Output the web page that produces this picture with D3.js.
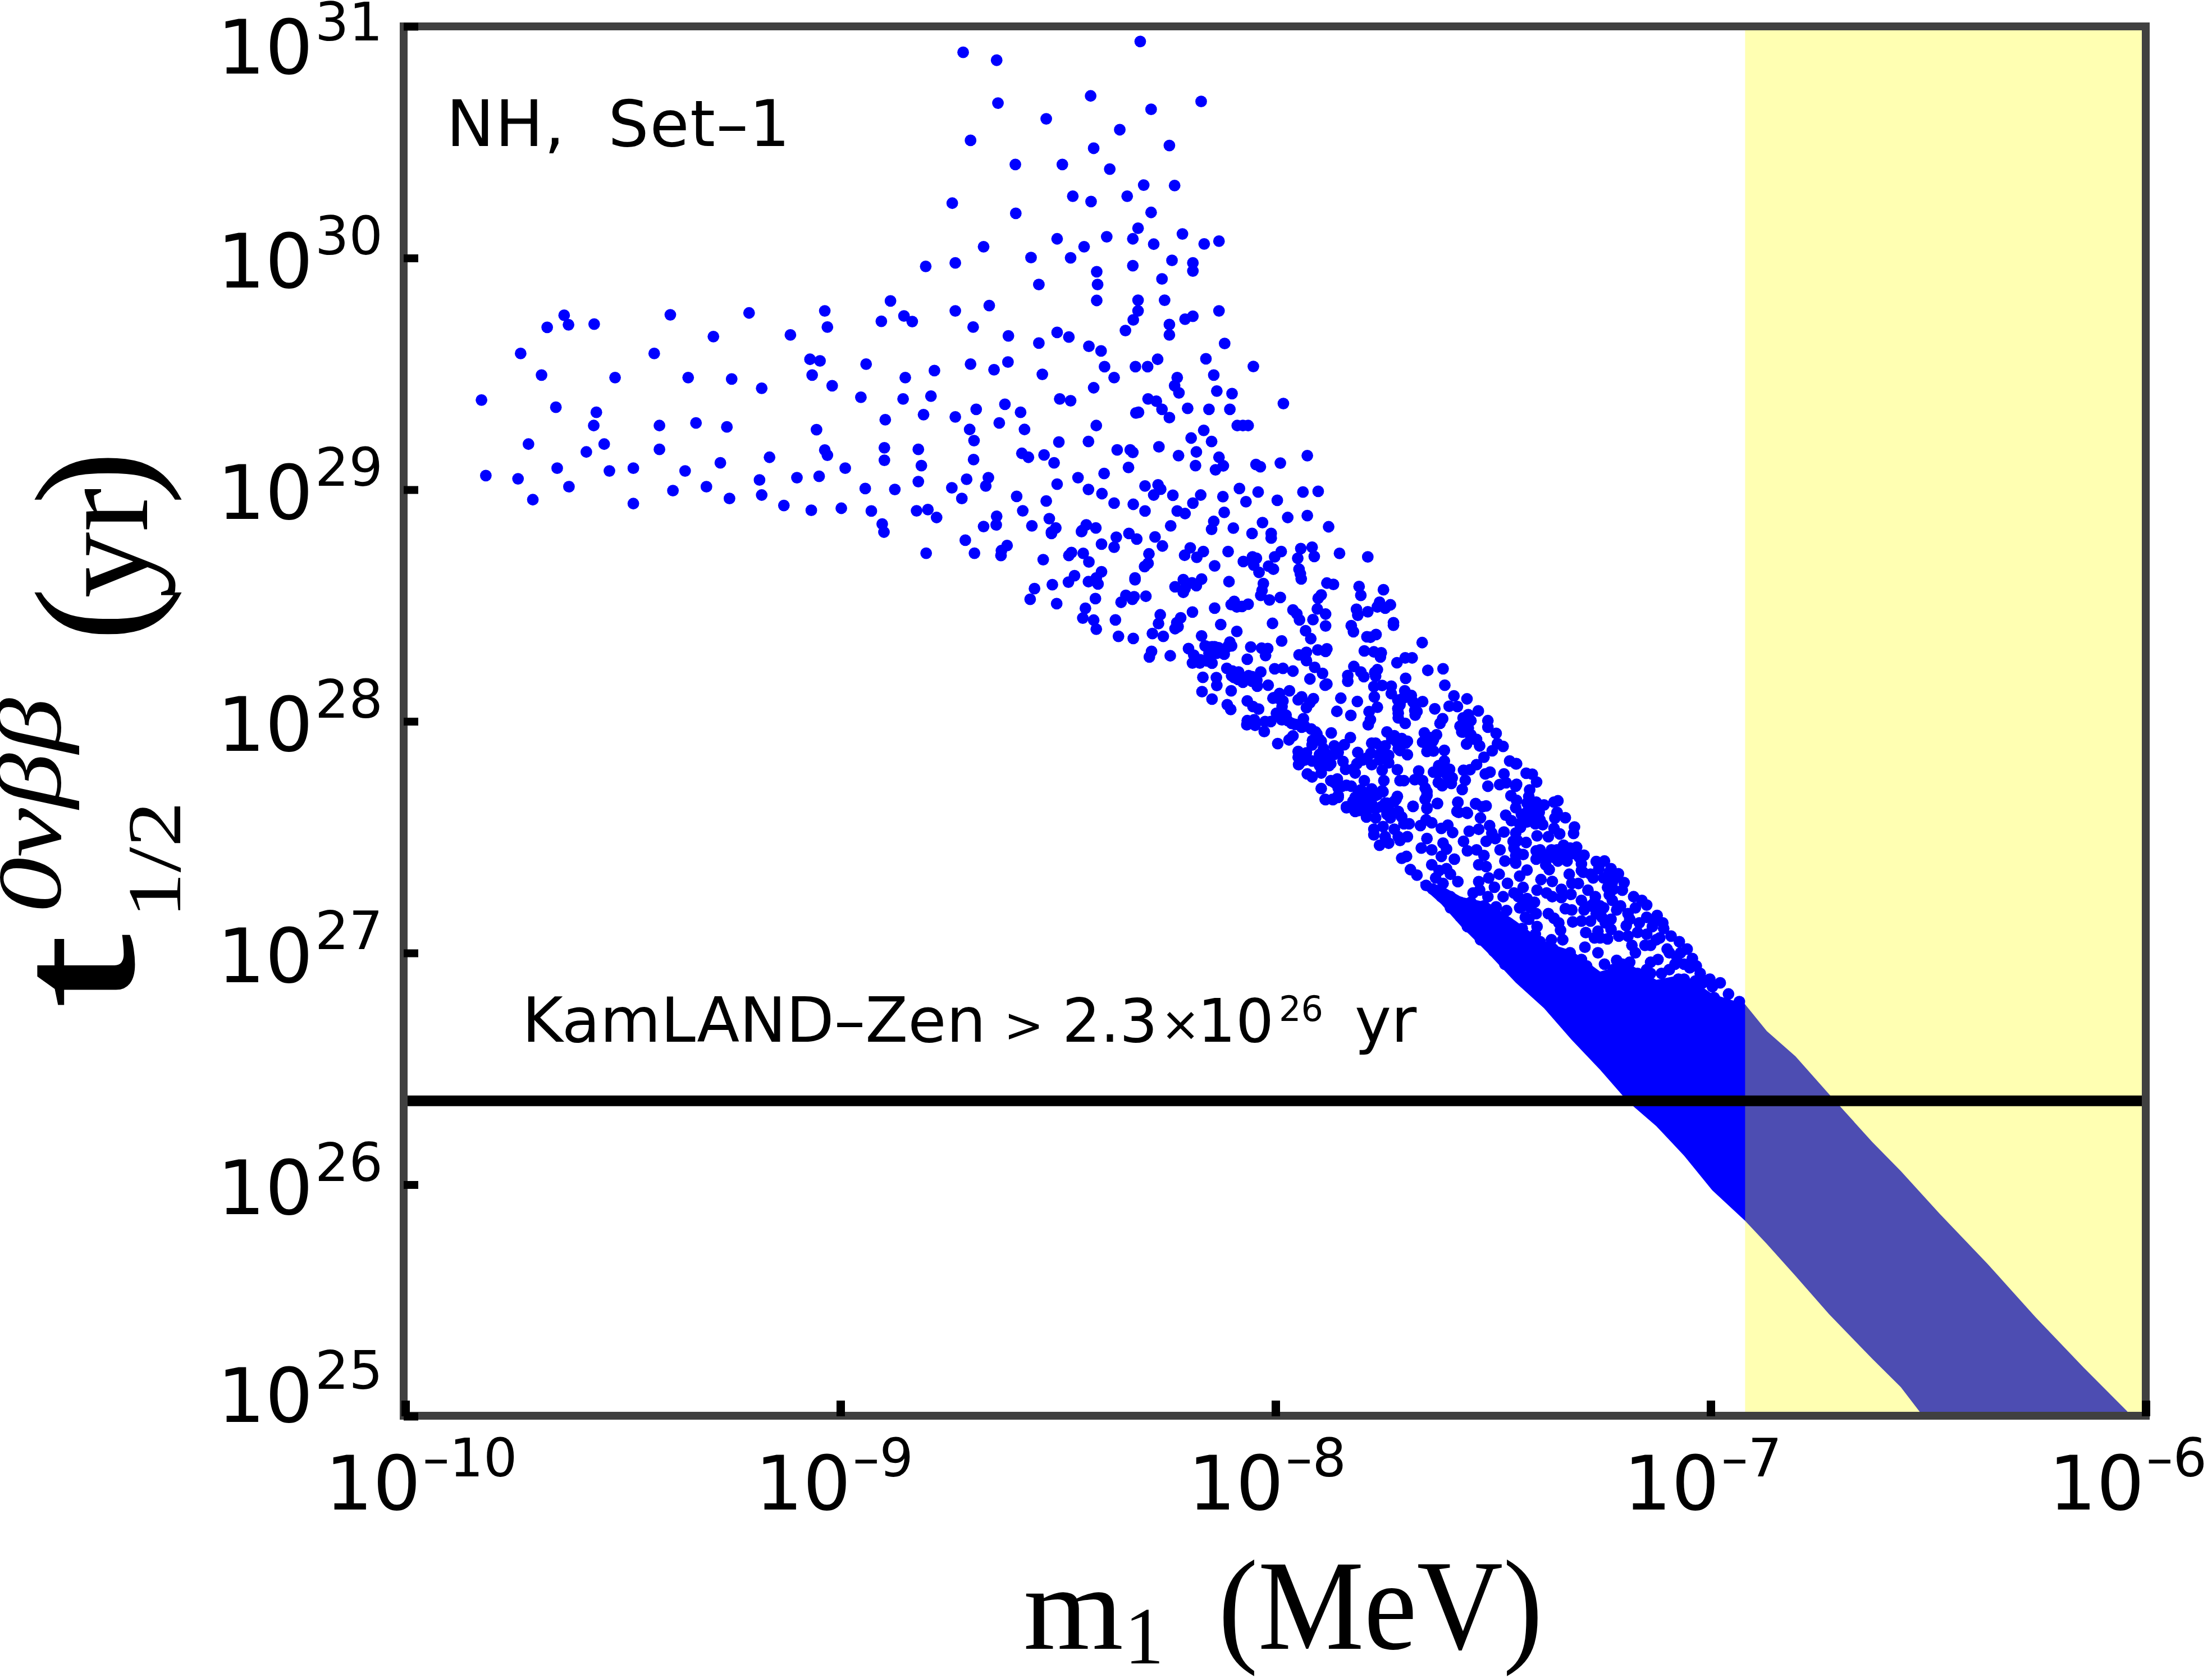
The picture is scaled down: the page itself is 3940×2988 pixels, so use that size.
<!DOCTYPE html>
<html>
<head>
<meta charset="utf-8">
<script src="https://cdn.jsdelivr.net/npm/d3@7"></script>
<style>
  html, body { margin: 0; padding: 0; background: #fff; }
  svg { display: block; }
</style>
</head>
<body>
<div id="chart"></div>
<script>
// ------ DATA (log10 of m1 in MeV, log10 of half life in yr) ------
const xTickExponents = [-10, -9, -8, -7, -6]
const yTickExponents = [25, 26, 27, 28, 29, 30, 31]
const kamlandLimit = 2.3e26
const yellowStart = 1.2e-7

// far left of the scatter
const pointsLeft = [
[-9.635,29.753],[-9.625,29.712],[-9.674,29.701],[-9.566,29.715],[-9.391,29.755],[-9.292,29.661],[-9.735,29.588],[-9.428,29.588],[-9.687,29.495],[-9.518,29.484],[-9.350,29.484],[-9.250,29.478],[-9.825,29.387],[-9.654,29.356],[-9.561,29.334],[-9.567,29.277],[-9.416,29.277],[-9.332,29.288],[-9.261,29.271],[-9.717,29.197],[-9.543,29.197],[-9.584,29.163],[-9.416,29.174],[-9.276,29.116],[-9.651,29.093],[-9.476,29.093],[-9.531,29.081],[-9.357,29.081],[-9.815,29.061],[-9.741,29.047],[-9.624,29.013],[-9.308,29.013],[-9.385,28.996],[-9.707,28.957],[-9.476,28.940],[-9.255,28.962]
]

// upper part, above 10^28.8
const pointsUpper = [
[-8.311,30.935],[-8.718,30.888],[-8.641,30.854],[-8.425,30.700],[-8.171,30.676],[-8.638,30.669],[-8.286,30.642],[-8.527,30.601],[-8.358,30.554],[-8.701,30.508],[-8.244,30.486],[-8.418,30.474],[-8.598,30.404],[-8.490,30.404],[-8.381,30.384],[-8.303,30.315],[-8.232,30.313],[-8.466,30.267],[-8.341,30.267],[-8.424,30.244],[-8.743,30.237],[-8.286,30.197],[-8.597,30.193],[-8.316,30.129],[-8.214,30.104],[-8.388,30.092],[-8.502,30.083],[-8.328,30.083],[-8.130,30.073],[-8.164,30.061],[-8.280,30.060],[-8.440,30.049],[-8.671,30.049],[-8.562,30.002],[-8.471,30.001],[-8.238,29.990],[-8.190,29.979],[-8.736,29.979],[-8.804,29.964],[-8.328,29.967],[-8.190,29.944],[-8.411,29.941],[-8.261,29.910],[-8.544,29.886],[-8.409,29.886],[-8.885,29.815],[-8.411,29.817],[-8.316,29.818],[-8.255,29.818],[-8.658,29.795],[-9.210,29.763],[-9.036,29.772],[-8.736,29.772],[-8.316,29.772],[-8.130,29.772],[-8.854,29.750],[-8.190,29.749],[-8.208,29.736],[-8.327,29.733],[-8.906,29.727],[-8.835,29.726],[-8.244,29.713],[-9.030,29.702],[-8.695,29.702],[-8.345,29.687],[-8.502,29.679],[-9.115,29.668],[-8.244,29.668],[-8.614,29.664],[-8.475,29.659],[-8.544,29.633],[-8.117,29.631],[-8.429,29.619],[-8.401,29.599],[-9.070,29.563],[-8.271,29.563],[-8.160,29.565],[-9.047,29.556],[-8.615,29.551],[-8.941,29.542],[-8.701,29.542],[-8.647,29.518],[-8.393,29.531],[-8.322,29.531],[-8.294,29.531],[-8.051,29.532],[-8.784,29.514],[-9.065,29.495],[-8.536,29.498],[-8.142,29.495],[-8.851,29.484],[-8.371,29.484],[-8.226,29.484],[-8.232,29.449],[-9.019,29.449],[-9.181,29.438],[-8.418,29.440],[-8.222,29.418],[-8.135,29.426],[-8.100,29.415],[-8.792,29.404],[-8.953,29.399],[-8.856,29.392],[-8.496,29.392],[-8.293,29.392],[-8.471,29.384],[-8.274,29.382],[-8.622,29.369],[-7.982,29.372],[-8.261,29.347],[-8.688,29.347],[-8.202,29.351],[-8.153,29.347],[-8.105,29.347],[-8.586,29.334],[-8.321,29.331],[-8.315,29.334],[-8.809,29.324],[-8.897,29.302],[-8.736,29.314],[-8.244,29.311],[-8.635,29.288],[-8.412,29.277],[-8.088,29.277],[-8.075,29.277],[-8.063,29.277],[-9.055,29.259],[-8.703,29.260],[-8.577,29.260],[-8.165,29.256],[-8.194,29.223],[-8.693,29.212],[-8.498,29.206],[-8.430,29.208],[-8.147,29.208],[-8.899,29.181],[-8.268,29.185],[-9.036,29.171],[-8.821,29.174],[-8.364,29.172],[-8.334,29.172],[-8.328,29.161],[-8.182,29.163],[-9.030,29.149],[-8.583,29.157],[-8.532,29.150],[-8.223,29.147],[-7.927,29.147],[-8.568,29.140],[-9.163,29.140],[-8.130,29.140],[-8.899,29.127],[-8.694,29.130],[-8.509,29.116],[-7.989,29.115],[-8.045,29.109],[-8.035,29.099],[-8.814,29.104],[-8.184,29.104],[-8.120,29.103],[-8.989,29.093],[-8.338,29.096],[-8.138,29.086],[-8.394,29.070],[-9.186,29.042],[-9.100,29.052],[-9.049,29.058],[-8.660,29.052],[-8.710,29.045],[-8.454,29.052],[-8.821,29.035],[-8.502,29.024],[-8.666,29.016],[-8.300,29.016],[-8.270,29.021],[-8.264,29.002],[-8.943,29.005],[-8.744,29.008],[-8.083,29.005],[-8.430,29.001],[-8.875,29.001],[-7.902,28.993],[-7.937,28.990],[-8.040,28.990],[-8.399,28.983],[-9.181,28.977],[-8.280,28.977],[-8.236,28.976],[-8.172,28.977],[-8.595,28.971],[-8.121,28.970],[-8.721,28.962],[-8.527,28.951],[-7.996,28.954],[-8.068,28.948],[-8.371,28.942],[-8.190,28.942],[-8.327,28.937],[-9.130,28.932],[-8.998,28.920],[-9.067,28.911],[-8.929,28.908],[-8.300,28.908],[-8.825,28.909],[-8.799,28.914],[-8.581,28.909],[-8.226,28.908],[-8.208,28.897],[-8.118,28.902],[-8.641,28.885],[-7.927,28.888],[-7.972,28.880],[-8.779,28.880],[-8.520,28.875],[-8.142,28.863],[-8.030,28.858],[-8.904,28.852],[-8.435,28.848],[-8.642,28.848],[-8.671,28.841],[-8.560,28.844],[-8.241,28.844],[-7.878,28.840],[-8.413,28.835],[-8.505,28.835],[-8.147,28.829],[-8.097,28.834],[-8.445,28.823],[-8.515,28.817],[-8.900,28.817]
]

// underside of the knee, around 10^-8.5
const pointsKnee = [
[-8.803,28.726],[-8.713,28.782],[-8.692,28.726],[-8.617,28.759],[-8.630,28.737],[-8.631,28.716],[-8.515,28.811],[-8.446,28.819],[-8.400,28.765],[-8.366,28.795],[-8.371,28.752],[-8.337,28.811],[-8.319,28.787],[-8.277,28.796],[-8.260,28.757],[-8.196,28.749],[-8.209,28.717],[-8.166,28.733],[-8.181,28.708],[-8.534,28.698],[-8.469,28.729],[-8.475,28.716],[-8.442,28.725],[-8.429,28.688],[-8.291,28.723],[-8.293,28.682],[-8.301,28.668],[-8.400,28.646],[-8.462,28.629],[-8.476,28.601],[-8.412,28.619],[-8.430,28.603],[-8.408,28.593],[-8.323,28.619],[-8.323,28.611],[-8.212,28.612],[-8.170,28.614],[-8.192,28.598],[-8.231,28.581],[-8.182,28.586],[-8.208,28.573],[-8.212,28.557],[-8.513,28.590],[-8.554,28.573],[-8.564,28.527],[-8.503,28.508],[-8.414,28.530],[-8.344,28.544],[-8.355,28.514],[-8.325,28.538],[-8.329,28.527],[-8.298,28.540],[-8.437,28.488],[-8.443,28.446],[-8.418,28.437],[-8.412,28.398],[-8.368,28.438],[-8.265,28.460],[-8.269,28.422],[-8.218,28.447],[-8.191,28.472],[-8.227,28.426],[-8.224,28.409],[-8.231,28.400],[-8.283,28.379],[-8.258,28.367],[-8.361,28.367],[-8.327,28.358],[-8.170,28.369],[-8.162,28.326],[-8.200,28.314],[-8.285,28.302],[-8.290,28.278],[-8.242,28.283],[-8.188,28.286],[-8.191,28.252],[-8.173,28.266],[-8.174,28.252],[-8.167,28.190],[-8.169,28.128]
]

// open middle of the band
const pointsMiddle = [
[-8.054,28.811],[-8.010,28.791],[-8.010,28.811],[-7.942,28.746],[-7.916,28.752],[-7.911,28.712],[-7.949,28.704],[-7.987,28.733],[-8.002,28.710],[-7.853,28.725],[-7.788,28.710],[-8.109,28.733],[-8.140,28.671],[-8.074,28.690],[-8.053,28.710],[-8.044,28.704],[-8.050,28.674],[-8.038,28.643],[-8.016,28.670],[-8.005,28.657],[-7.946,28.657],[-7.943,28.637],[-7.941,28.615],[-8.107,28.603],[-8.028,28.595],[-8.031,28.565],[-8.034,28.544],[-8.014,28.524],[-7.989,28.535],[-7.882,28.597],[-7.867,28.591],[-7.808,28.582],[-7.804,28.544],[-7.752,28.568],[-7.895,28.546],[-7.902,28.531],[-7.904,28.485],[-7.885,28.463],[-7.960,28.481],[-7.951,28.464],[-7.945,28.438],[-7.914,28.439],[-7.885,28.412],[-7.814,28.484],[-7.811,28.458],[-7.788,28.473],[-7.761,28.514],[-7.766,28.494],[-7.748,28.489],[-7.736,28.503],[-7.729,28.426],[-7.729,28.415],[-7.826,28.413],[-7.821,28.387],[-7.790,28.365],[-7.782,28.363],[-7.769,28.375],[-8.095,28.518],[-8.102,28.504],[-8.089,28.494],[-8.077,28.496],[-8.063,28.506],[-8.140,28.489],[-8.126,28.418],[-8.007,28.423],[-8.089,28.388],[-7.931,28.391],[-7.919,28.357],[-7.986,28.347],[-7.663,28.340],[-8.105,28.342],[-8.101,28.326],[-8.110,28.322],[-8.146,28.322],[-8.157,28.322],[-8.140,28.322],[-8.153,28.294],[-8.118,28.290],[-8.057,28.321],[-8.032,28.316],[-8.018,28.314],[-8.023,28.284],[-8.065,28.268],[-8.146,28.251],[-7.929,28.298],[-7.946,28.287],[-7.903,28.308],[-7.882,28.313],[-7.885,28.302],[-7.929,28.262],[-7.910,28.233],[-7.892,28.207],[-7.796,28.304],[-7.774,28.300],[-7.757,28.296],[-7.759,28.278],[-7.721,28.253],[-7.702,28.274],[-7.686,28.274],[-7.650,28.220],[-7.615,28.227],[-7.701,28.186],[-7.611,28.156],[-7.820,28.237],[-7.804,28.213],[-7.797,28.193],[-7.766,28.223],[-7.772,28.211],[-7.770,28.195],[-7.834,28.198],[-7.834,28.173],[-7.774,28.150],[-7.755,28.155],[-7.734,28.152],[-7.734,28.120],[-7.703,28.132],[-7.688,28.112],[-7.662,28.085],[-7.701,28.104],[-7.719,28.092],[-7.710,28.096],[-7.680,28.076],[-7.719,28.055],[-7.680,28.047],[-7.679,28.027],[-7.718,28.015],[-7.702,27.991],[-7.773,28.106],[-7.766,28.061],[-7.785,28.042],[-7.782,28.007],[-7.787,27.985],[-7.850,28.100],[-7.812,28.086],[-7.859,28.043],[-7.827,28.026],[-7.590,28.110],[-7.560,28.097],[-7.601,28.065],[-7.582,28.064],[-7.634,28.054],[-7.534,28.045],[-7.557,28.029],[-7.569,28.015],[-7.616,28.011],[-7.622,27.991],[-7.561,27.999],[-7.576,27.979],[-7.557,27.971],[-7.572,27.954],[-7.551,27.942],[-7.561,27.902],[-7.531,27.894],[-7.538,27.922],[-7.512,28.003],[-7.512,27.975],
[-8.112,28.229],[-8.099,28.217],[-8.085,28.213],[-8.095,28.189],[-8.086,28.181],[-8.065,28.185],[-8.054,28.193],[-8.034,28.213],[-8.043,28.177],[-8.042,28.152],[-8.017,28.156],[-8.002,28.227],[-7.983,28.229],[-7.960,28.217],[-8.136,28.189],[-8.135,28.155],[-8.102,28.132],[-8.146,28.096],[-8.111,28.072],[-8.103,28.051],[-8.065,28.088],[-8.052,28.064],[-8.039,28.053],[-7.921,28.183],[-7.886,28.156],[-7.882,28.161],[-7.968,28.132],[-7.991,28.120],[-8.004,28.102],[-7.983,28.088],[-7.940,28.106],[-7.948,28.093],[-7.913,28.098],[-7.921,28.080],[-7.929,28.059],[-7.985,28.064],[-7.993,28.031],[-7.976,28.027],[-7.986,28.007],[-7.936,28.011],[-7.963,27.991],[-7.940,27.975],[-7.918,27.967],[-7.905,27.946],[-7.872,27.950],[-7.828,27.930],[-7.842,27.899],[-8.065,28.003],[-8.049,28.007],[-8.066,27.985],[-8.047,27.983],[-8.024,27.999],[-8.011,27.999],[-8.026,27.956],[-7.960,27.937],[-7.969,27.920],[-7.995,27.904],[-7.915,27.918],[-7.895,27.914],[-7.865,27.894],[-7.890,27.882],[-7.948,27.870],[-7.929,27.864],[-7.948,27.845],[-7.947,27.813],[-7.916,27.829],[-7.890,27.837],[-7.865,27.857],[-7.877,27.809],[-7.845,27.827],[-7.895,27.777],[-7.927,27.773],[-7.916,27.760],[-7.895,27.710],[-7.873,27.744],[-7.858,27.751],[-7.856,27.712],[-7.885,27.662],[-7.868,27.662],[-7.856,27.680],[-7.837,27.627],[-7.837,27.724],[-7.817,27.777],[-7.839,27.793],[-7.813,27.817],[-7.811,27.866],[-7.796,27.744],[-7.779,27.906],[-7.770,27.906],[-7.781,27.862],[-7.744,27.954],[-7.733,27.926],[-7.710,27.926],[-7.701,27.906],[-7.748,27.894],[-7.714,27.874],[-7.697,27.856],[-7.740,27.853],[-7.779,27.813],[-7.740,27.821],[-7.755,27.789],[-7.720,27.791],[-7.751,27.744],[-7.714,27.744],[-7.705,27.744],[-7.779,27.708],[-7.755,27.700],[-7.809,27.696],[-7.796,27.672],[-7.766,27.684],[-7.720,27.676],[-7.727,27.655],[-7.744,27.647],[-7.684,27.633],[-7.658,27.950],[-7.630,27.942],[-7.645,27.930],[-7.662,27.910],[-7.639,27.914],[-7.652,27.870],[-7.637,27.872],[-7.612,27.875],[-7.612,27.829],[-7.625,27.809],[-7.600,27.793],[-7.637,27.781],[-7.671,27.786],[-7.680,27.748],[-7.662,27.744],[-7.626,27.736],[-7.594,27.756],[-7.596,27.732],[-7.617,27.722],[-7.656,27.712],[-7.652,27.680],[-7.656,27.664],[-7.628,27.645],[-7.652,27.623],[-7.568,27.789],[-7.553,27.791],[-7.538,27.813],[-7.521,27.845],[-7.564,27.746],[-7.571,27.706],[-7.518,27.773],[-7.581,27.650],[-7.540,27.645],[-7.512,27.720],[-7.579,27.607],[-7.561,27.607],[-7.525,27.631],
[-7.822,27.655],[-7.800,27.647],[-7.779,27.643],[-7.757,27.631],[-7.740,27.619],[-7.718,27.611],[-7.817,27.611],[-7.791,27.611],
[-7.493,27.948],[-7.490,27.904],[-7.477,27.892],[-7.502,27.873],[-7.462,27.829],[-7.448,27.817],[-7.507,27.781],[-7.475,27.773],[-7.470,27.735],[-7.485,27.727],[-7.448,27.720],[-7.459,27.679],
[-8.148,28.286],[-8.135,28.294],[-8.131,28.318],[-8.157,28.261],[-8.101,28.197],[-8.075,28.189],[-8.075,28.169],[-8.054,28.173],[-8.062,28.197],[-7.994,28.100],[-8.006,28.100],[-7.985,28.084],[-7.985,28.035],[-7.998,28.035],[-7.972,28.003],[-7.955,27.987],[-7.933,27.979],[-7.908,27.954],[-7.916,27.898],[-7.899,27.922],[-7.882,27.857],[-7.899,27.857],[-7.873,27.817],[-7.856,27.866],[-7.890,27.817],[-7.933,27.833],[-7.899,27.809],[-7.942,27.825],[-7.865,27.736],[-7.847,27.720],[-7.826,27.720],[-7.804,27.704],[-7.817,27.672],[-7.800,27.696],[-7.779,27.680],[-7.727,27.938],[-7.723,27.914],[-7.697,27.914],[-7.718,27.882],[-7.761,27.857],[-7.757,27.890],[-7.761,27.833],[-7.791,27.841],[-7.822,27.793],[-7.800,27.833],[-7.654,27.914],[-7.645,27.890],[-7.637,27.922],[-7.615,27.809],[-7.606,27.769],[-7.628,27.777],[-7.602,27.744],[-7.551,27.926],[-7.542,27.922],[-7.563,28.011],[-7.551,28.003],[-7.568,27.954],[-7.684,28.084],[-7.714,28.072],[-7.701,28.124],[-7.718,28.035],[-7.675,28.043]
]

// crowded part, just before the band closes up
const pointsCrowded = [
[-7.774,27.534],[-7.753,27.546],[-7.727,27.534],[-7.705,27.558],[-7.693,27.558],[-7.774,27.510],[-7.748,27.502],[-7.718,27.502],[-7.697,27.502],[-7.761,27.465],[-7.740,27.474],[-7.714,27.486],[-7.791,27.587],[-7.710,27.587],[-7.736,27.583],[-7.770,27.583],[-7.654,27.575],[-7.667,27.550],[-7.641,27.562],[-7.619,27.538],[-7.604,27.552],[-7.593,27.520],[-7.652,27.494],[-7.665,27.453],[-7.641,27.445],[-7.615,27.474],[-7.607,27.449],[-7.619,27.417],[-7.589,27.405],[-7.641,27.381],[-7.699,27.417],[-7.710,27.409],[-7.690,27.360],[-7.675,27.336],[-7.654,27.292],[-7.639,27.276],[-7.624,27.356],[-7.598,27.340],[-7.581,27.308],[-7.607,27.364],[-7.615,27.300],[-7.632,27.324],[-7.568,27.482],[-7.559,27.441],[-7.538,27.445],[-7.521,27.421],[-7.516,27.482],[-7.533,27.381],[-7.516,27.373],[-7.555,27.526],[-7.533,27.534],[-7.508,27.550],[-7.503,27.518],[-7.495,27.494],[-7.475,27.522],[-7.454,27.482],[-7.452,27.453],[-7.484,27.445],[-7.473,27.397],[-7.450,27.397],[-7.486,27.340],[-7.510,27.324],[-7.533,27.308],[-7.531,27.272],[-7.497,27.284],[-7.467,27.301],[-7.458,27.571],[-7.471,27.595],[-7.469,27.183],[-7.493,27.199],[-7.521,27.203],[-7.551,27.219],[-7.576,27.219],[-7.598,27.195],[-7.576,27.158],[-7.542,27.162],[-7.503,27.138],[-7.559,27.114],[-7.529,27.057],[-7.482,27.098],[-7.465,27.130],[-7.499,27.049],[-7.452,27.041],[-7.598,27.243],[-7.619,27.243],[-7.546,27.259],[-7.512,27.243],[-7.477,27.243],[-7.452,27.259],[-7.473,26.952],[-7.499,27.009],
[-7.446,27.817],[-7.424,27.776],[-7.410,27.772],[-7.400,27.738],[-7.446,27.728],[-7.416,27.704],[-7.418,27.675],[-7.383,27.639],[-7.360,27.651],[-7.351,27.657],[-7.422,27.647],[-7.401,27.651],[-7.422,27.607],[-7.394,27.607],[-7.403,27.558],[-7.386,27.554],[-7.446,27.659],[-7.448,27.627],[-7.353,27.607],[-7.334,27.584],[-7.358,27.582],[-7.360,27.538],[-7.313,27.544],[-7.315,27.516],[-7.347,27.514],[-7.373,27.502],[-7.399,27.506],[-7.424,27.477],[-7.437,27.542],[-7.444,27.485],[-7.338,27.465],[-7.353,27.445],[-7.323,27.453],[-7.308,27.457],[-7.291,27.422],[-7.401,27.441],[-7.431,27.425],[-7.383,27.421],[-7.401,27.405],[-7.379,27.380],[-7.351,27.397],[-7.330,27.397],[-7.371,27.360],[-7.297,27.384],[-7.448,27.388],[-7.263,27.395],[-7.244,27.397],[-7.229,27.364],[-7.212,27.342],[-7.199,27.304],[-7.203,27.271],[-7.293,27.348],[-7.270,27.324],[-7.246,27.324],[-7.226,27.304],[-7.325,27.340],[-7.390,27.317],[-7.364,27.309],[-7.319,27.301],[-7.304,27.300],[-7.422,27.358],[-7.439,27.332],[-7.431,27.283],[-7.399,27.271],[-7.377,27.259],[-7.343,27.275],[-7.321,27.253],[-7.364,27.243],[-7.343,27.239],[-7.282,27.271],[-7.265,27.243],[-7.442,27.243],[-7.405,27.219],[-7.431,27.203],[-7.401,27.170],[-7.418,27.146],[-7.373,27.170],[-7.360,27.150],[-7.349,27.130],[-7.345,27.098],[-7.340,27.057],[-7.366,27.057],[-7.399,27.114],[-7.403,27.081],[-7.433,27.106],[-7.334,27.191],[-7.319,27.186],[-7.317,27.134],[-7.297,27.138],[-7.297,27.227],[-7.276,27.203],[-7.291,27.186],[-7.287,27.088],[-7.263,27.170],[-7.233,27.251],[-7.226,27.227],[-7.246,27.195],[-7.177,27.243],[-7.158,27.227],[-7.147,27.207],[-7.173,27.195],[-7.207,27.203],[-7.123,27.162],[-7.110,27.130],[-7.108,27.106],[-7.134,27.114],[-7.164,27.130],[-7.194,27.118],[-7.242,27.130],[-7.229,27.102],[-7.259,27.094],[-7.267,27.065],[-7.237,27.061],[-7.289,27.025],[-7.259,27.001],[-7.168,27.089],[-7.091,27.073],[-7.072,27.049],[-7.054,27.017],[-7.042,26.976],[-7.033,26.944],[-7.125,27.057],[-7.151,27.033],[-7.181,27.033],[-7.190,27.073],[-7.211,27.073],[-7.100,27.017],[-7.078,26.984],[-7.138,26.960],[-7.121,26.972],[-7.173,27.001],[-7.216,26.968],[-7.244,26.952],[-7.224,26.928],[-7.186,26.960],[-7.168,26.912],[-7.297,26.972],[-7.285,26.944],[-7.323,27.001],[-7.345,26.984],[-7.319,26.936],[-7.002,26.887],[-6.978,26.871],[-6.959,26.823],[-6.934,26.790],[-7.024,26.912],[-6.996,26.855],[-7.095,26.928],[-7.061,26.952],[-7.018,26.871],[-7.113,26.912],[-7.138,26.912],[-7.074,26.887],[-7.190,26.879],[-7.216,26.863],[-7.164,26.863],[-7.125,26.855],[-7.048,26.847],[-6.992,26.807],[-7.383,27.025],[-7.409,27.025],[-7.435,27.033],[-7.362,27.017],[-7.405,26.968],[-7.362,26.952],[-7.431,26.928],[-7.383,26.904],[-7.336,26.887],[-7.297,26.895],[-7.263,26.887],
[-7.435,27.599],[-7.418,27.623],[-7.409,27.631],[-7.392,27.631],[-7.409,27.591],[-7.422,27.566],[-7.392,27.574],[-7.439,27.558],[-7.448,27.518],[-7.442,27.429],[-7.448,27.421],[-7.392,27.445],[-7.366,27.445],[-7.362,27.413],[-7.340,27.421],[-7.319,27.429],[-7.302,27.413],[-7.297,27.356],[-7.276,27.340],[-7.257,27.364],[-7.233,27.348],[-7.220,27.324],[-7.224,27.275],[-7.237,27.283],[-7.422,27.235],[-7.414,27.195],[-7.439,27.195],[-7.426,27.154],[-7.448,27.065],[-7.448,27.025],[-7.426,27.065],[-7.392,27.049],[-7.267,27.219],[-7.254,27.203],[-7.276,27.138],[-7.250,27.154],[-7.229,27.146],[-7.254,27.065],[-7.216,27.186],[-7.190,27.170],[-7.186,27.146],[-7.147,27.154],[-7.130,27.146],[-7.147,27.081],[-7.117,27.065],[-7.138,27.033],[-7.203,26.952],[-7.190,26.920],[-7.147,26.928],[-7.095,27.001],[-7.069,27.001],[-7.082,26.952],[-7.048,26.936],[-7.061,26.887],[-7.035,26.879],
[-7.886,27.663],[-7.869,27.663],[-7.856,27.672],[-7.837,27.631],[-7.824,27.627],[-7.809,27.615],[-7.791,27.655],[-7.770,27.680],[-7.753,27.696],[-7.723,27.663],[-7.748,27.647],[-7.718,27.607],[-7.770,27.623],[-7.744,27.599],[-7.796,27.615],[-7.684,27.633],[-7.628,27.646],[-7.652,27.627],[-7.656,27.663],[-7.652,27.696],[-7.581,27.651],[-7.583,27.611],[-7.559,27.603],[-7.540,27.643],[-7.516,27.635],[-7.529,27.583]
]

// the solid band, read as its upper and lower edge
const bandM1 = [-7.667,-7.619,-7.573,-7.512,-7.448,-7.383,-7.319,-7.254,-7.190,-7.125,-7.061,-6.996,-6.921,-6.871,-6.805,-6.728,-6.628,-6.563,-6.474,-6.364,-6.253,-6.143,-6.044,-5.990]
const bandUpper = [27.308,27.291,27.242,27.218,27.138,27.048,27.010,26.920,26.956,26.884,26.908,26.823,26.779,26.663,26.554,26.391,26.183,26.059,25.875,25.659,25.427,25.211,25.024,24.908]
const bandLower = [27.291,27.211,27.114,27.000,26.872,26.762,26.624,26.496,26.358,26.253,26.125,25.975,25.844,25.744,25.606,25.441,25.247,25.126,24.908,24.665,24.399,24.156,23.914,23.793]

// ------ SCALES ------
const width = 3940, height = 2988
const x = d3.scaleLog().domain([1e-10, 1e-6]).range([722, 3822])
const y = d3.scaleLog().domain([1e25, 1e31]).range([2522, 47])

const svg = d3.select("#chart").append("svg")
  .attr("width", width)
  .attr("height", height)
  .style("background", "#fff")

svg.append("defs").append("clipPath").attr("id", "plot")
  .append("rect")
  .attr("x", x(1e-10)).attr("y", y(1e31))
  .attr("width", x(1e-6) - x(1e-10)).attr("height", y(1e25) - y(1e31))

const plot = svg.append("g").attr("clip-path", "url(#plot)")

// ------ MARKS ------
const band = d3.area()
  .x(function(d, i) { return x(Math.pow(10, d)) })
  .y0(function(d, i) { return y(Math.pow(10, bandLower[i])) })
  .y1(function(d, i) { return y(Math.pow(10, bandUpper[i])) })

plot.append("path")
  .datum(bandM1)
  .attr("d", band)
  .attr("fill", "#0000ff")

const allPoints = pointsLeft.concat(pointsUpper, pointsKnee, pointsMiddle, pointsCrowded)

plot.selectAll("circle")
  .data(allPoints)
  .join("circle")
  .attr("cx", function(d) { return x(Math.pow(10, d[0])) })
  .attr("cy", function(d) { return y(Math.pow(10, d[1])) })
  .attr("r", 10.4)
  .attr("fill", "#0000ff")

// excluded region sits on top of the dots
plot.append("rect")
  .attr("x", x(yellowStart))
  .attr("y", y(1e31))
  .attr("width", x(1e-6) - x(yellowStart))
  .attr("height", y(1e25) - y(1e31))
  .attr("fill", "#ffff00")
  .attr("opacity", 0.3)

plot.append("line")
  .attr("x1", x(1e-10)).attr("x2", x(1e-6))
  .attr("y1", y(kamlandLimit)).attr("y2", y(kamlandLimit))
  .attr("stroke", "#000")
  .attr("stroke-width", 19)

// ------ FRAME AND AXES ------
svg.append("rect")
  .attr("x", 719).attr("y", 47)
  .attr("width", 3103).attr("height", 2474)
  .attr("fill", "none")
  .attr("stroke", "#404040")
  .attr("stroke-width", 14)

const xAxis = d3.axisBottom(x)
  .tickValues(xTickExponents.map(function(e) { return Math.pow(10, e) }))
  .tickSize(-28)
  .tickFormat("")
const yAxis = d3.axisLeft(y)
  .tickValues(yTickExponents.map(function(e) { return Math.pow(10, e) }))
  .tickSize(-26)
  .tickFormat("")

const gx = svg.append("g").attr("transform", "translate(0,2522)").call(xAxis)
const gy = svg.append("g").attr("transform", "translate(719,0)").call(yAxis)
gx.select(".domain").remove()
gy.select(".domain").remove()
gx.selectAll("line").attr("stroke", "#000").attr("stroke-width", 15)
gy.selectAll("line").attr("stroke", "#000").attr("stroke-width", 14)

// ------ TICK LABELS ------
const sans = "'DejaVu Sans', sans-serif"
const serif = "'Liberation Serif', serif"

function power_label(px, baseline, exponent) {
  svg.append("text").attr("x", px).attr("y", baseline)
    .attr("font-family", sans).attr("font-size", 134).text("10")
  svg.append("text").attr("x", px + 174).attr("y", baseline - 59)
    .attr("font-family", sans).attr("font-size", 95).text(exponent)
}

yTickExponents.forEach(function(e) {
  // top and bottom labels are pushed in to stay on the page
  let shift = e == 31 ? 84 : e == 25 ? 10 : 52
  power_label(387, y(Math.pow(10, e)) + shift, e)
})

const xLabelShift = {"-10": 143, "-9": 152, "-8": 156, "-7": 155, "-6": 173}
xTickExponents.forEach(function(e) {
  power_label(x(Math.pow(10, e)) - xLabelShift[e], 2688, "\u2013" + Math.abs(e))
})

// ------ TEXT IN THE PLOT ------
svg.append("text").attr("x", 795).attr("y", 260)
  .attr("font-family", sans).attr("font-size", 114)
  .attr("textLength", 612).attr("lengthAdjust", "spacing")
  .style("white-space", "pre")
  .text("NH,  Set\u20131")

function sans_text(px, py, size, str) {
  svg.append("text").attr("x", px).attr("y", py)
    .attr("font-family", sans).attr("font-size", size).text(str)
}
sans_text(930, 1855, 111, "KamLAND\u2013Zen")
sans_text(1788, 1855, 85, ">")
sans_text(1892, 1855, 107, "2.3")
sans_text(2067, 1853, 85, "\u00d7")
sans_text(2133, 1855, 107, "10")
sans_text(2278, 1818, 62, "26")
sans_text(2413, 1855, 110, "yr")

// ------ AXIS TITLES ------
function serif_text(px, py, size, str, length) {
  let t = svg.append("text").attr("x", px).attr("y", py)
    .attr("font-family", serif).attr("font-size", size).text(str)
  if (length) t.attr("textLength", length).attr("lengthAdjust", "spacingAndGlyphs")
  return t
}
serif_text(1823, 2936, 215, "m", 178)
serif_text(2003, 2962, 145, "1", 70)
serif_text(2170, 2936, 228, "(MeV)", 578)

function rotated_text(bx, by, size, str, length) {
  let t = svg.append("text")
    .attr("transform", "translate(" + bx + "," + by + ") rotate(-90)")
    .attr("font-family", serif).attr("font-size", size).text(str)
  if (length) t.attr("textLength", length).attr("lengthAdjust", "spacingAndGlyphs")
  return t
}
rotated_text(235, 1790, 295, "t", 124).attr("stroke", "#000").attr("stroke-width", 5)
rotated_text(107, 1625, 160, "0\u03bd\u03b2\u03b2", 382).attr("font-style", "italic")
rotated_text(321, 1635, 135, "1/2", 208)
rotated_text(262, 1142, 289, "(")
rotated_text(262, 1065, 235, "yr", 196)
rotated_text(262, 899, 289, ")")
</script>
</body>
</html>
